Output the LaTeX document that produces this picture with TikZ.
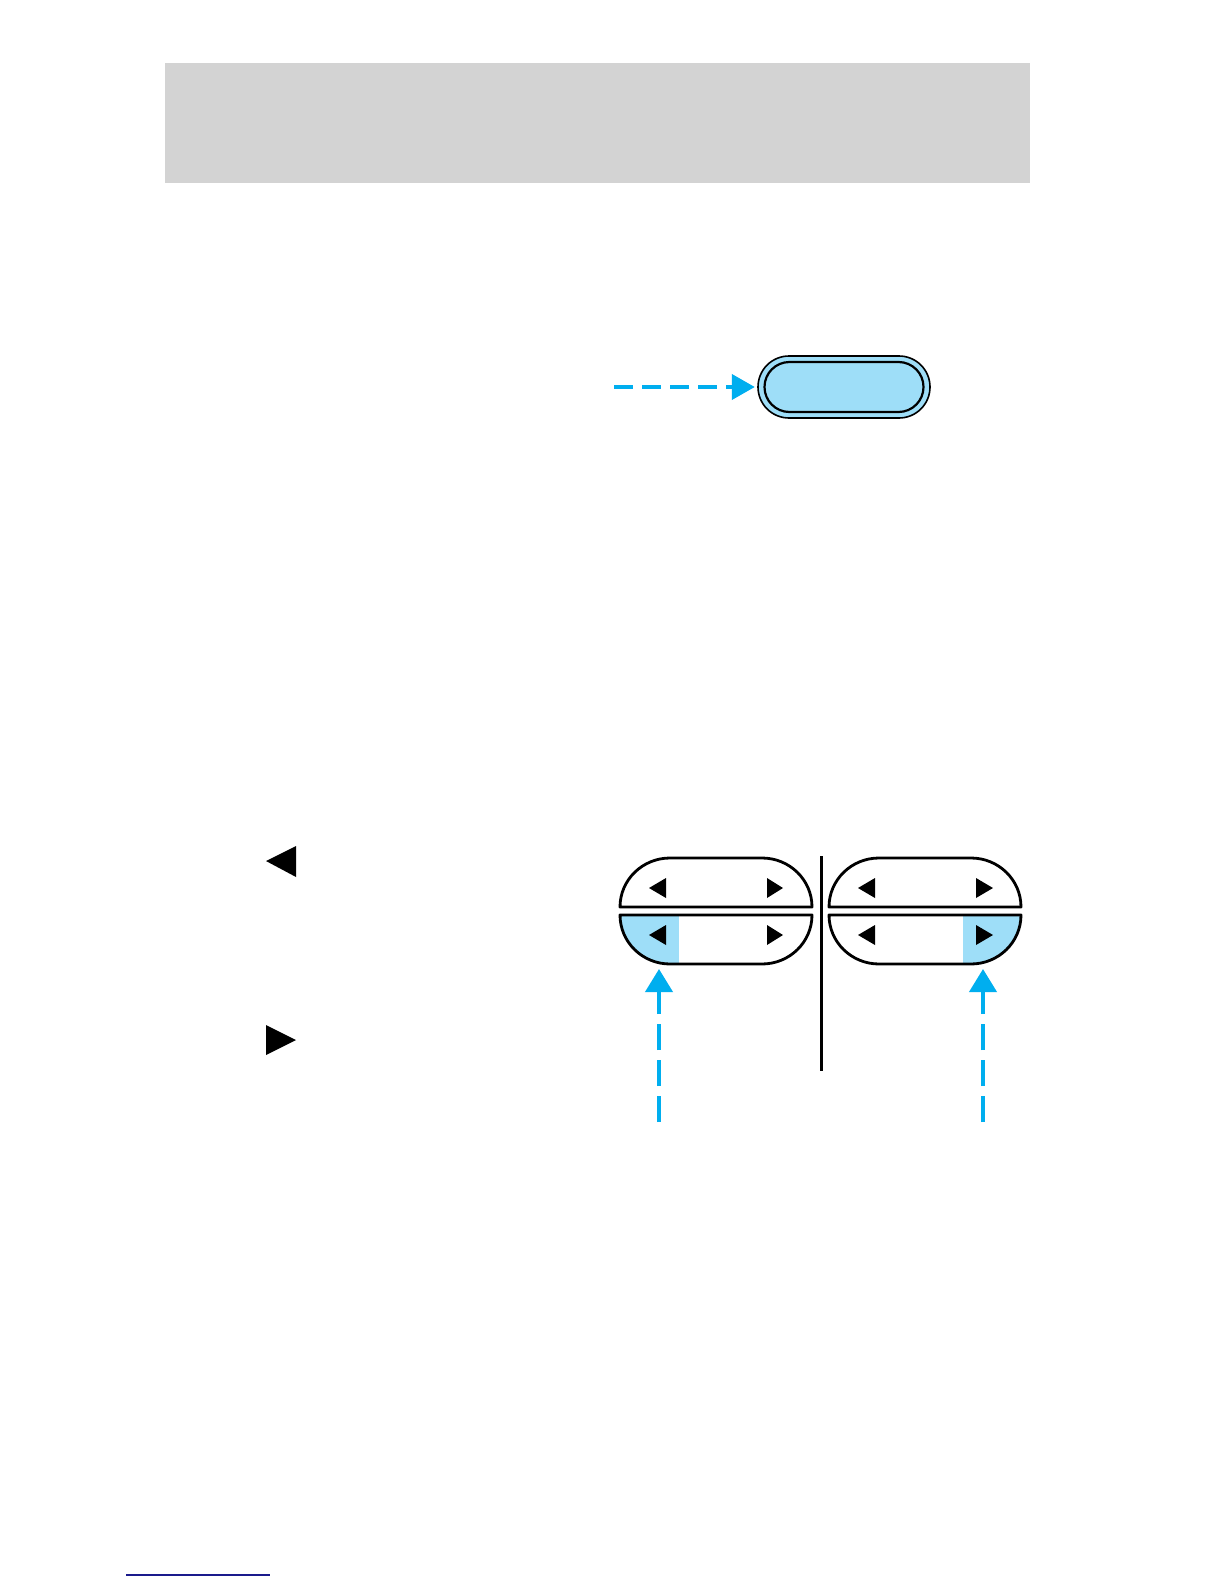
\documentclass[tikz,border=0pt]{standalone}
\usetikzlibrary{arrows.meta}
\definecolor{lblue}{RGB}{158,222,248}
\definecolor{cyanarr}{RGB}{0,174,239}
\definecolor{hdrgray}{RGB}{211,211,211}
\definecolor{navyline}{RGB}{26,26,140}
\begin{document}
\begin{tikzpicture}[x=0.5pt,y=-0.5pt,
  outline/.style={draw=black,line width=1.4pt,line join=round},
  tri/.style={fill=black},
  hcallout/.style={draw=cyanarr,line width=2pt,dash pattern=on 9.5pt off 4.5pt,
    -{Triangle[length=11.5pt,width=12.5pt]}},
  vcallout/.style={draw=cyanarr,line width=2pt,dash pattern=on 13pt off 5pt,
    -{Triangle[length=11.5pt,width=13.5pt]}},
  btnouter/.style={draw=black,line width=0.8pt,fill=lblue,minimum width=86pt,
    minimum height=31pt,inner sep=0pt,rounded corners=15.5pt},
  btninner/.style={draw=black,line width=1.1pt,fill=lblue,minimum width=79.5pt,
    minimum height=25pt,inner sep=0pt,rounded corners=12.5pt}]
\useasboundingbox (0,0) rectangle (1224,1584);
\fill[white] (0,0) rectangle (1224,1584);
% header band
\fill[hdrgray] (165,63) rectangle (1030,183);
% top button
\node[btnouter] (btn) at (844,387) {};
\node[btninner] (btnin) at (844,387) {};
\coordinate (afoot) at (614,387);
\draw[hcallout,shorten >=1.2pt] (afoot) -- (btn.west);
% left margin triangles
\fill[tri] (266,861) -- (296,846) -- (296,877) -- cycle;
\fill[tri] (266,1025) -- (296,1040) -- (266,1055) -- cycle;
% ---------- left split button ----------
\begin{scope}
\clip (620,915) arc[start angle=180,end angle=90,x radius=50,y radius=49] -- (762,964)
  arc[start angle=90,end angle=0,x radius=50,y radius=49] -- cycle;
\fill[lblue] (610,910) rectangle (679,970);
\end{scope}
\draw[outline] (620,907) arc[start angle=180,end angle=270,x radius=50,y radius=49] -- (762,858)
  arc[start angle=270,end angle=360,x radius=50,y radius=49] -- cycle;
\draw[outline] (620,915) arc[start angle=180,end angle=90,x radius=50,y radius=49] -- (762,964)
  arc[start angle=90,end angle=0,x radius=50,y radius=49] -- cycle;
\fill[tri] (649,888) -- (666,878) -- (666,898) -- cycle;
\fill[tri] (783,888) -- (767,878) -- (767,898) -- cycle;
\fill[tri] (649,935) -- (666,925) -- (666,945) -- cycle;
\fill[tri] (783,935) -- (767,925) -- (767,945) -- cycle;
% ---------- right split button ----------
\begin{scope}
\clip (829,915) arc[start angle=180,end angle=90,x radius=50,y radius=49] -- (971,964)
  arc[start angle=90,end angle=0,x radius=50,y radius=49] -- cycle;
\fill[lblue] (963,910) rectangle (1030,970);
\end{scope}
\draw[outline] (829,907) arc[start angle=180,end angle=270,x radius=50,y radius=49] -- (971,858)
  arc[start angle=270,end angle=360,x radius=50,y radius=49] -- cycle;
\draw[outline] (829,915) arc[start angle=180,end angle=90,x radius=50,y radius=49] -- (971,964)
  arc[start angle=90,end angle=0,x radius=50,y radius=49] -- cycle;
\fill[tri] (858,888) -- (875,878) -- (875,898) -- cycle;
\fill[tri] (993,888) -- (976,878) -- (976,898) -- cycle;
\fill[tri] (858,935) -- (875,925) -- (875,945) -- cycle;
\fill[tri] (993,935) -- (976,925) -- (976,945) -- cycle;
% divider
\draw[black,line width=1.5pt] (821,856) -- (821,1071);
% bottom callouts
\coordinate (Ltip) at (659,969);
\coordinate (Lfoot) at (659,1122);
\coordinate (Rtip) at (983,969);
\coordinate (Rfoot) at (983,1122);
\draw[vcallout] (Lfoot) -- (Ltip);
\draw[vcallout] (Rfoot) -- (Rtip);
% footer rule
\draw[navyline,line width=0.75pt] (126,1575) -- (270,1575);
\end{tikzpicture}
\end{document}
